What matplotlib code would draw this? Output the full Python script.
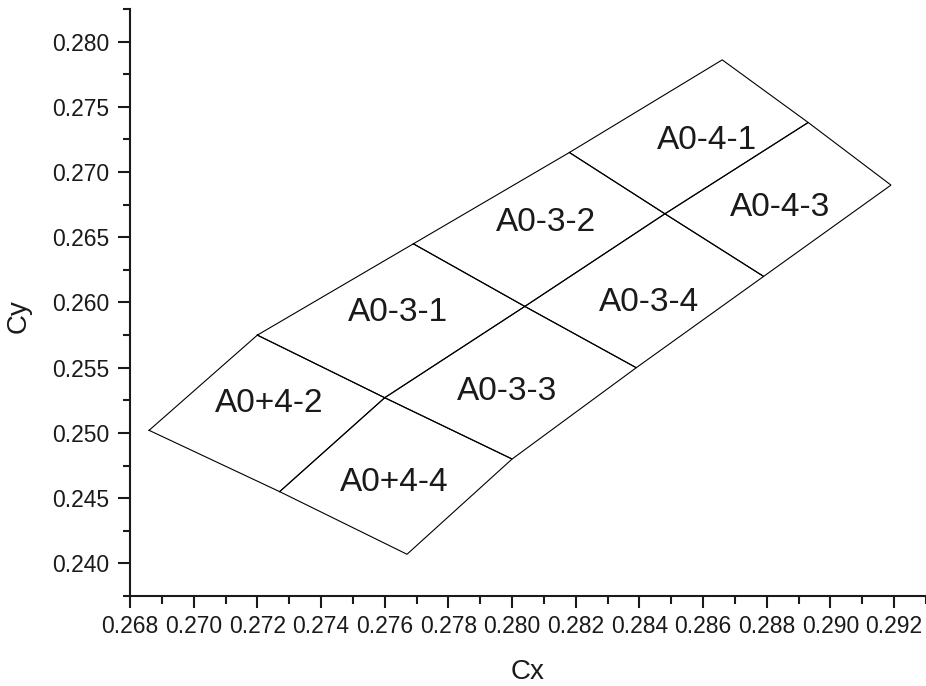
import matplotlib
matplotlib.use("Agg")
import matplotlib.pyplot as plt
from matplotlib.ticker import MultipleLocator, FormatStrFormatter

plt.rcParams['font.family'] = ['Liberation Sans', 'DejaVu Sans']

# Chromaticity grid corners: columns run left to right, rows run top to bottom
grid_cx = [
    [0.2686, 0.2727, 0.2767],
    [0.2720, 0.2760, 0.2800],
    [0.2769, 0.2804, 0.2839],
    [0.2818, 0.2848, 0.2879],
    [0.2866, 0.2893, 0.2919],
]
grid_cy = [
    [0.2502, 0.2455, 0.2407],
    [0.2575, 0.2527, 0.2480],
    [0.2645, 0.2597, 0.2550],
    [0.2715, 0.2668, 0.2620],
    [0.2786, 0.2738, 0.2690],
]

# Bin names, one per (column, row) cell
bin_names = [
    ["A0+4-2", "A0+4-4"],
    ["A0-3-1", "A0-3-3"],
    ["A0-3-2", "A0-3-4"],
    ["A0-4-1", "A0-4-3"],
]

# Text anchors (baseline centre) for each bin name
label_cx = [[0.27236, 0.27630], [0.27641, 0.27984], [0.28105, 0.28431], [0.28613, 0.28842]]
label_cy = [[0.25160, 0.24558], [0.25857, 0.25255], [0.26548, 0.25936], [0.27176, 0.26666]]

fig = plt.figure(figsize=(9.26, 6.86), dpi=100)
ax = fig.add_axes([130 / 926, 90 / 686, 796 / 926, 587 / 686])

text_color = "#1a1a1a"

for i in range(len(bin_names)):
    for j in range(len(bin_names[i])):
        xs = [grid_cx[i][j], grid_cx[i + 1][j], grid_cx[i + 1][j + 1], grid_cx[i][j + 1], grid_cx[i][j]]
        ys = [grid_cy[i][j], grid_cy[i + 1][j], grid_cy[i + 1][j + 1], grid_cy[i][j + 1], grid_cy[i][j]]
        ax.plot(xs, ys, color="black", lw=0.8, solid_joinstyle="miter")
        ax.text(label_cx[i][j], label_cy[i][j], bin_names[i][j], fontsize=24,
                ha="center", va="baseline", color=text_color)

ax.set_xlim(0.268, 0.293)
ax.set_ylim(0.2375, 0.2825)

ax.xaxis.set_major_locator(MultipleLocator(0.002))
ax.xaxis.set_minor_locator(MultipleLocator(0.001))
ax.yaxis.set_major_locator(MultipleLocator(0.005))
ax.yaxis.set_minor_locator(MultipleLocator(0.0025))
ax.xaxis.set_major_formatter(FormatStrFormatter("%.3f"))
ax.yaxis.set_major_formatter(FormatStrFormatter("%.3f"))

for side in ("top", "right"):
    ax.spines[side].set_visible(False)
for side in ("left", "bottom"):
    ax.spines[side].set_linewidth(1.5)
    ax.spines[side].set_color(text_color)

ax.tick_params(which="major", direction="out", length=8.6, width=1.5, color=text_color,
               labelsize=16.5, labelcolor=text_color)
ax.tick_params(which="minor", direction="out", length=5.4, width=1.5, color=text_color)
ax.tick_params(axis="x", which="major", pad=5)
ax.tick_params(axis="y", which="major", pad=6.5)

ax.set_xlabel("Cx", fontsize=20, color=text_color, va="center")
ax.set_ylabel("Cy", fontsize=20, color=text_color, va="center", ha="center")
ax.xaxis.set_label_coords(0.5, -0.1295)
ax.yaxis.set_label_coords(-0.1394, 0.477)

fig.savefig("out.png", dpi=100)
